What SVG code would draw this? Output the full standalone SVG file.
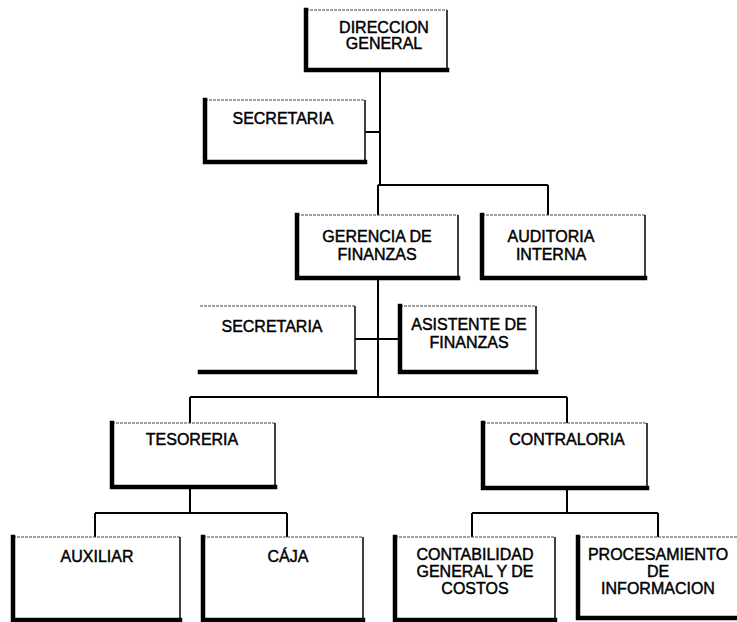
<svg xmlns="http://www.w3.org/2000/svg" width="737" height="622" viewBox="0 0 737 622">
  <style>
    .bg { fill: #ffffff; }
    .top { stroke: #444; stroke-width: 1.2; stroke-dasharray: 3 1; fill: none; }
    .side { stroke: #111; stroke-width: 1.6; fill: none; }
    .thick { stroke: #000; stroke-width: 4.5; fill: none; stroke-linecap: square; }
    .wire { stroke: #000; stroke-width: 2; fill: none; }
    text { font-family: "Liberation Sans", Arial, sans-serif; font-size: 16px; fill: #000; stroke: #000; stroke-width: 0.45; text-anchor: middle; }
  </style>
  <rect class="bg" x="0" y="0" width="737" height="622"/>

  <!-- connectors -->
  <g id="connectors">
    <path class="wire" d="M380 70 V185"/>
    <path class="wire" d="M365 132 H380"/>
    <path class="wire" d="M378 185 H548 M378 185 V215 M548 185 V215"/>
    <path class="wire" d="M378 278 V397"/>
    <path class="wire" d="M355 339 H400"/>
    <path class="wire" d="M190 397 H567 M190 397 V423 M567 397 V423"/>
    <path class="wire" d="M190 487 V513 M95 513 H287 M95 513 V537 M287 513 V537"/>
    <path class="wire" d="M567 488 V513 M472 513 H658 M472 513 V537 M658 513 V537"/>
  </g>

  <!-- nodes: thin top and right edge, heavy left and bottom edge -->
  <g id="direccion-general">
    <path class="top" d="M306 10 H447"/>
    <path class="side" d="M447 10 V70"/>
    <path class="thick" d="M306 10 V70 H447"/>
    <text x="384" y="33">DIRECCION</text>
    <text x="384" y="49">GENERAL</text>
  </g>

  <g id="secretaria-direccion">
    <path class="top" d="M205 100 H365"/>
    <path class="side" d="M365 100 V162"/>
    <path class="thick" d="M205 100 V162 H365"/>
    <text x="283" y="124">SECRETARIA</text>
  </g>

  <g id="gerencia-finanzas">
    <path class="top" d="M297 215 H458"/>
    <path class="side" d="M458 215 V278"/>
    <path class="thick" d="M297 215 V278 H458"/>
    <text x="377" y="242">GERENCIA DE</text>
    <text x="377" y="260">FINANZAS</text>
  </g>

  <g id="auditoria-interna">
    <path class="top" d="M482 215 H645"/>
    <path class="side" d="M645 215 V278"/>
    <path class="thick" d="M482 215 V278 H645"/>
    <text x="551" y="242">AUDITORIA</text>
    <text x="551" y="260">INTERNA</text>
  </g>

  <g id="secretaria-gerencia">
    <path class="top" d="M200 306 H355"/>
    <path class="side" d="M355 306 V372"/>
    <path class="thick" d="M200 372 H355"/>
    <text x="272" y="332">SECRETARIA</text>
  </g>

  <g id="asistente-finanzas">
    <path class="top" d="M400 306 H536"/>
    <path class="side" d="M536 306 V372"/>
    <path class="thick" d="M400 306 V372 H536"/>
    <text x="469" y="330">ASISTENTE DE</text>
    <text x="469" y="348">FINANZAS</text>
  </g>

  <g id="tesoreria">
    <path class="top" d="M112 423 H275"/>
    <path class="side" d="M275 423 V487"/>
    <path class="thick" d="M112 423 V487 H275"/>
    <text x="192" y="445">TESORERIA</text>
  </g>

  <g id="contraloria">
    <path class="top" d="M483 423 H647"/>
    <path class="side" d="M647 423 V488"/>
    <path class="thick" d="M483 423 V488 H647"/>
    <text x="567" y="445">CONTRALORIA</text>
  </g>

  <g id="auxiliar">
    <path class="top" d="M13 537 H180"/>
    <path class="side" d="M180 537 V620"/>
    <path class="thick" d="M13 537 V620 H180"/>
    <text x="97" y="562">AUXILIAR</text>
  </g>

  <g id="caja">
    <path class="top" d="M203 537 H363"/>
    <path class="side" d="M363 537 V620"/>
    <path class="thick" d="M203 537 V620 H363"/>
    <text x="288" y="562">CÁJA</text>
  </g>

  <g id="contabilidad">
    <path class="top" d="M395 537 H555"/>
    <path class="side" d="M555 537 V620"/>
    <path class="thick" d="M395 537 V620 H555"/>
    <text x="475" y="560">CONTABILIDAD</text>
    <text x="475" y="577">GENERAL Y DE</text>
    <text x="475" y="594">COSTOS</text>
  </g>

  <g id="procesamiento">
    <path class="top" d="M578 537 H740"/>
    <path class="thick" d="M578 537 V618 H740"/>
    <text x="658" y="560">PROCESAMIENTO</text>
    <text x="658" y="577">DE</text>
    <text x="658" y="594">INFORMACION</text>
  </g>
</svg>
